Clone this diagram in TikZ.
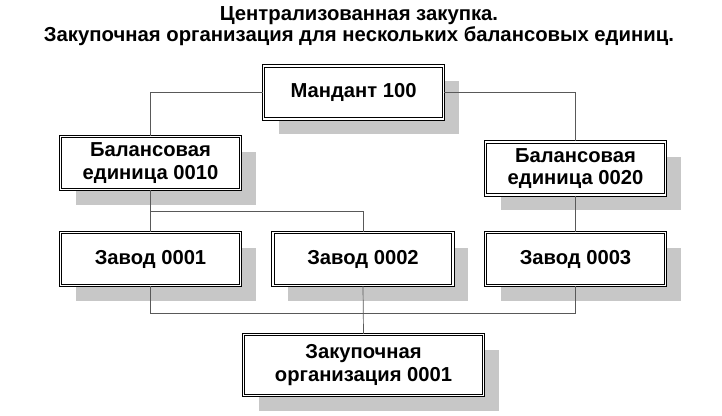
\documentclass[tikz,border=0pt]{standalone}
\usepackage{fontspec}
\setmainfont{Liberation Sans}
\usetikzlibrary{calc, positioning, shadows}

\begin{document}
\begin{tikzpicture}[
            x=1pt, y=-1pt, % pixel units, y grows downwards
            title_style/.style={font=\fontsize{20.3}{24}\selectfont\bfseries, anchor=base},
            unit_style/.style={draw, double=white, double distance=1.6pt, line width=1.1pt, fill=white,
                    align=center, font=\fontsize{20.2}{22.5}\selectfont\bfseries,
                    minimum width=180pt, minimum height=53pt, inner sep=0pt,
                    drop shadow={shadow xshift=15pt, shadow yshift=-15pt, fill=black!22, opacity=1}},
            wide_unit/.style={unit_style, minimum width=240pt, minimum height=61pt},
            edge_style/.style={black!65, line width=0.7pt}
        ]
        \useasboundingbox (0,0) rectangle (722,415);

        % Title
        \node[title_style] (t1) at (359, 20) {Централизованная закупка.};
        \node[title_style] (t2) at (359, 41) {Закупочная организация для нескольких балансовых единиц.};

        % Client
        \node[unit_style] (m100) at (353.5, 92.5) {Мандант 100};

        % Company codes
        \node[unit_style] (be10) at (150.5, 163) {Балансовая\\единица 0010};
        \node[unit_style] (be20) at (575.5, 168.5) {Балансовая\\единица 0020};

        % Plants
        \node[unit_style] (z1) at (150.5, 259) {Завод 0001};
        \node[unit_style] (z2) at (363, 259) {Завод 0002};
        \node[unit_style] (z3) at (575.5, 259) {Завод 0003};

        % Purchasing organization
        \node[wide_unit] (po1) at (363.5, 365) {Закупочная\\организация 0001};

        % Edges
        \draw[edge_style] (m100.west) -| (be10.north);
        \draw[edge_style] (m100.east) -| (be20.north);
        \draw[edge_style] (be10.south) -- (z1.north);
        \draw[edge_style] (be10.south) -- ++(0,21) -| (z2.north);
        \draw[edge_style] (be20.south) -- (z3.north);
        \draw[edge_style] (z1.south) -- ++(0,27) -| (z3.south);
        \draw[edge_style] (z2.south) -- (po1.north);

    \end{tikzpicture}
\end{document}
